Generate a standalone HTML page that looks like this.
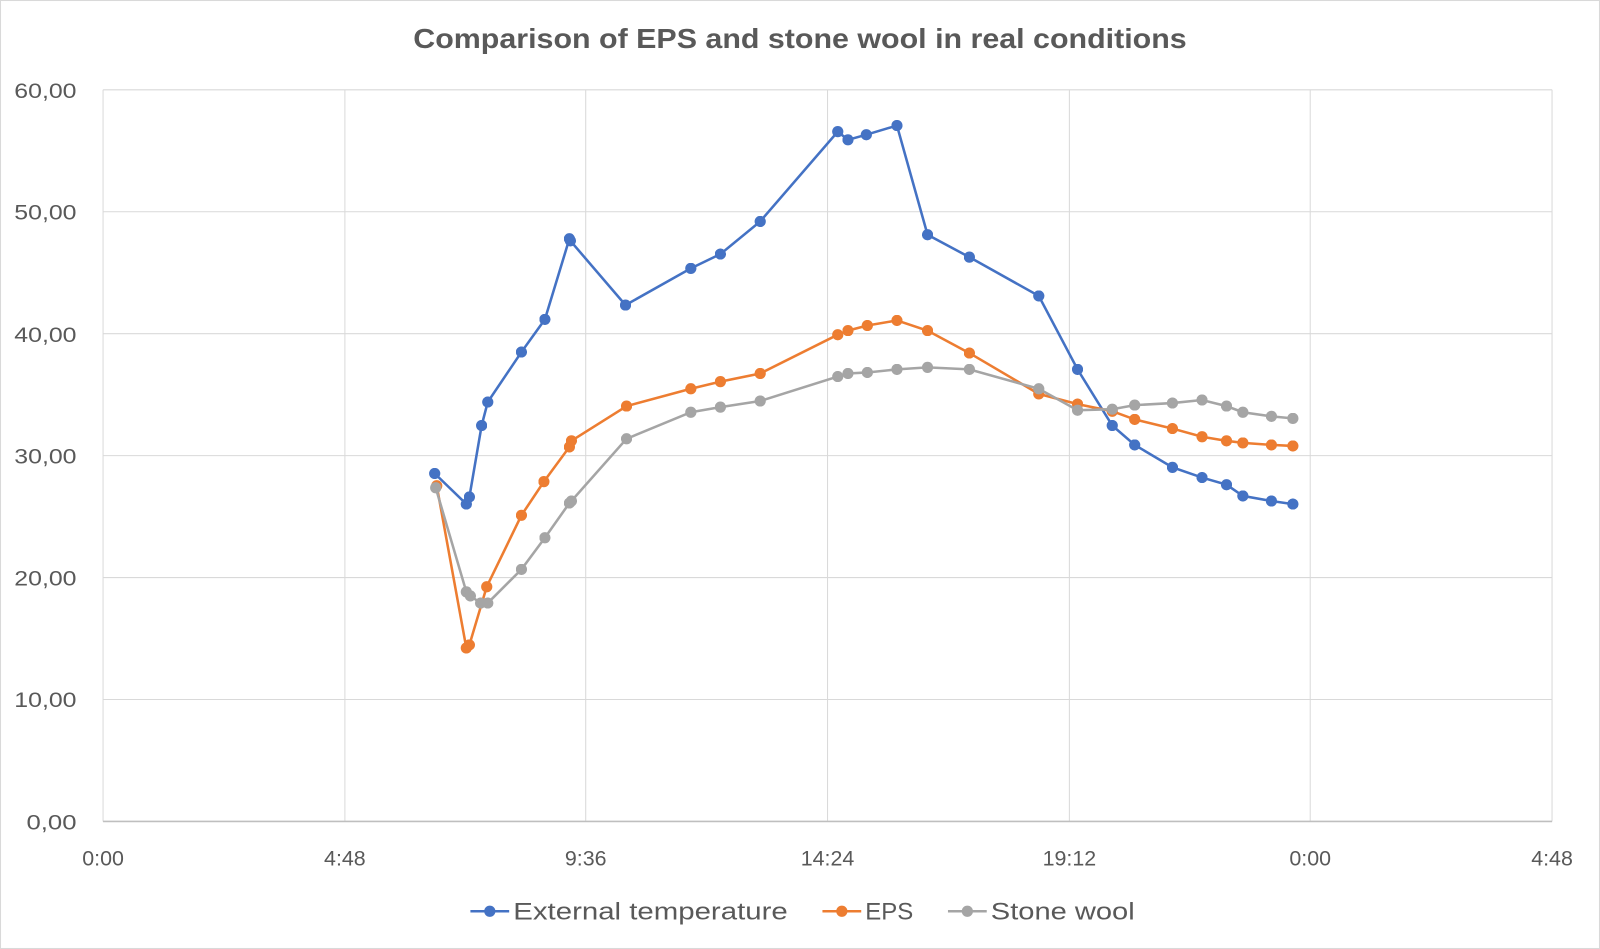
<!DOCTYPE html>
<html><head><meta charset="utf-8"><style>html,body{margin:0;padding:0;background:#fff}svg{display:block}</style></head>
<body>
<svg width="1600" height="949" viewBox="0 0 1568 930" xmlns="http://www.w3.org/2000/svg" font-family="Liberation Sans, sans-serif">
<rect x="0.5" y="0.5" width="1567" height="929" fill="#fff" stroke="#d9d9d9"/>
<text x="405" y="47" textLength="758" lengthAdjust="spacingAndGlyphs" font-size="27" font-weight="bold" fill="#595959">Comparison of EPS and stone wool in real conditions</text>
<g stroke="#d9d9d9" stroke-width="1">
<line x1="101" y1="88" x2="1521" y2="88"/><line x1="101" y1="207.5" x2="1521" y2="207.5"/><line x1="101" y1="327" x2="1521" y2="327"/><line x1="101" y1="446.5" x2="1521" y2="446.5"/><line x1="101" y1="566" x2="1521" y2="566"/><line x1="101" y1="685.5" x2="1521" y2="685.5"/>
<line x1="338" y1="88" x2="338" y2="805"/><line x1="574" y1="88" x2="574" y2="805"/><line x1="811" y1="88" x2="811" y2="805"/><line x1="1048" y1="88" x2="1048" y2="805"/><line x1="1284" y1="88" x2="1284" y2="805"/><line x1="1521" y1="88" x2="1521" y2="805"/><line x1="101" y1="88" x2="101" y2="805"/>
</g>
<line x1="101" y1="805" x2="1521" y2="805" stroke="#bfbfbf" stroke-width="1.5"/>
<g font-size="21" fill="#595959">
<text x="14" y="96" textLength="61" lengthAdjust="spacingAndGlyphs">60,00</text><text x="14" y="215" textLength="61" lengthAdjust="spacingAndGlyphs">50,00</text><text x="14" y="335" textLength="61" lengthAdjust="spacingAndGlyphs">40,00</text><text x="14" y="454" textLength="61" lengthAdjust="spacingAndGlyphs">30,00</text><text x="14" y="574" textLength="61" lengthAdjust="spacingAndGlyphs">20,00</text><text x="14" y="693" textLength="61" lengthAdjust="spacingAndGlyphs">10,00</text><text x="26" y="813" textLength="49" lengthAdjust="spacingAndGlyphs">0,00</text>
</g>
<g font-size="21" fill="#595959" text-anchor="middle">
<text x="101" y="848">0:00</text><text x="338" y="848">4:48</text><text x="574" y="848">9:36</text><text x="811" y="848">14:24</text><text x="1048" y="848">19:12</text><text x="1284" y="848">0:00</text><text x="1521" y="848">4:48</text>
</g>
<defs>
<marker id="mb" viewBox="0 0 12 12" refX="6" refY="6" markerWidth="11" markerHeight="11" markerUnits="userSpaceOnUse"><circle cx="6" cy="6" r="6" fill="#4472c4"/></marker>
<marker id="mo" viewBox="0 0 12 12" refX="6" refY="6" markerWidth="11" markerHeight="11" markerUnits="userSpaceOnUse"><circle cx="6" cy="6" r="6" fill="#ed7d31"/></marker>
<marker id="mg" viewBox="0 0 12 12" refX="6" refY="6" markerWidth="11" markerHeight="11" markerUnits="userSpaceOnUse"><circle cx="6" cy="6" r="6" fill="#a5a5a5"/></marker>
</defs>
<polyline fill="none" stroke="#4472c4" stroke-width="2.5" marker-start="url(#mb)" marker-mid="url(#mb)" marker-end="url(#mb)" points="426,464 457,494 460,487 472,417 478,394 511,345 534,313 558,234 559,236 613,299 677,263 706,249 745,217 821,129 831,137 849,132 879,123 909,230 950,252 1018,290 1056,362 1090,417 1112,436 1149,458 1178,468 1202,475 1218,486 1246,491 1267,494"/>
<polyline fill="none" stroke="#ed7d31" stroke-width="2.5" marker-start="url(#mo)" marker-mid="url(#mo)" marker-end="url(#mo)" points="428,476 457,635 460,632 477,575 511,505 533,472 558,438 560,432 614,398 677,381 706,374 745,366 821,328 831,324 850,319 879,314 909,324 950,346 1018,386 1056,396 1090,403 1112,411 1149,420 1178,428 1202,432 1218,434 1246,436 1267,437"/>
<polyline fill="none" stroke="#a5a5a5" stroke-width="2.5" marker-start="url(#mg)" marker-mid="url(#mg)" marker-end="url(#mg)" points="427,478 457,580 461,584 471,591 478,591 511,558 534,527 558,493 560,491 614,430 677,404 706,399 745,393 821,369 831,366 850,365 879,362 909,360 950,362 1018,381 1056,402 1090,401 1112,397 1149,395 1178,392 1202,398 1218,404 1246,408 1267,410"/>
<g font-size="24" fill="#595959">
<line x1="461" y1="893" x2="499" y2="893" stroke="#4472c4" stroke-width="2.5"/><circle cx="480" cy="893" r="5.5" fill="#4472c4"/><text x="503" y="901" textLength="269" lengthAdjust="spacingAndGlyphs">External temperature</text>
<line x1="806" y1="893" x2="844" y2="893" stroke="#ed7d31" stroke-width="2.5"/><circle cx="825" cy="893" r="5.5" fill="#ed7d31"/><text x="848" y="901" textLength="47" lengthAdjust="spacingAndGlyphs">EPS</text>
<line x1="929" y1="893" x2="967" y2="893" stroke="#a5a5a5" stroke-width="2.5"/><circle cx="948" cy="893" r="5.5" fill="#a5a5a5"/><text x="971" y="901" textLength="141" lengthAdjust="spacingAndGlyphs">Stone wool</text>
</g>
</svg>
</body></html>
